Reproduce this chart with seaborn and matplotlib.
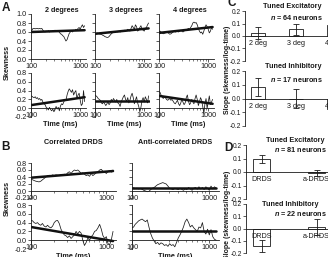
import numpy as np
import pandas as pd
import matplotlib
matplotlib.use("Agg")
import matplotlib.pyplot as plt
from matplotlib.ticker import LogLocator, NullFormatter, FixedLocator
import seaborn as sns

sns.set_theme(style="ticks")
plt.rcParams['font.family'] = ['Liberation Sans', 'DejaVu Sans']
plt.rcParams['axes.unicode_minus'] = False
plt.rcParams['mathtext.fontset'] = 'custom'
plt.rcParams['mathtext.it'] = 'Liberation Sans:italic:bold'
plt.rcParams['mathtext.rm'] = 'Liberation Sans:bold'

# ---------------- data ----------------
TIME = [100, 105, 110, 116, 122, 128, 135, 142, 150, 158, 166, 175, 184, 194, 204, 215, 226, 238, 251, 264,
        278, 293, 308, 325, 342, 360, 379, 399, 420, 442, 466, 490, 516, 544, 572, 603, 635, 668, 704, 741,
        780, 822, 865, 911, 959, 1010, 1063, 1120, 1180, 1240]

a_2deg_top = [0.62, 0.64, 0.68, 0.68, 0.67, 0.68, 0.68, 0.67, 0.68, 0.67, 0.68, 0.64, 0.61, 0.60, 0.62, 0.61, 0.63, 0.60, 0.62, 0.61,
              0.63, 0.62, 0.64, 0.62, 0.63, 0.61, 0.60, 0.56, 0.55, 0.52, 0.50, 0.45, 0.40, 0.43, 0.50, 0.57, 0.60, 0.62, 0.60, 0.64,
              0.63, 0.66, 0.64, 0.68, 0.70, 0.66, 0.72, 0.76, 0.70, 0.74]
a_3deg_top = [0.57, 0.57, 0.58, 0.57, 0.56, 0.55, 0.55, 0.53, 0.52, 0.50, 0.49, 0.48, 0.48, 0.50, 0.53, 0.56, 0.58, 0.60, 0.59, 0.60,
              0.61, 0.60, 0.62, 0.60, 0.61, 0.63, 0.62, 0.64, 0.62, 0.63, 0.66, 0.64, 0.62, 0.68, 0.74, 0.70, 0.66, 0.76, 0.72, 0.62,
              0.64, 0.70, 0.74, 0.66, 0.64, 0.62, 0.68, 0.70, 0.76, 0.80]
a_4deg_top = [0.60, 0.62, 0.60, 0.58, 0.56, 0.57, 0.58, 0.60, 0.59, 0.57, 0.55, 0.56, 0.58, 0.60, 0.62, 0.60, 0.61, 0.63, 0.60, 0.62,
              0.64, 0.62, 0.60, 0.62, 0.65, 0.64, 0.66, 0.68, 0.66, 0.70, 0.74, 0.80, 0.82, 0.80, 0.81, 0.76, 0.68, 0.62, 0.58, 0.60,
              0.55, 0.62, 0.70, 0.76, 0.72, 0.66, 0.58, 0.62, 0.70, 0.66]
a_2deg_bot = [0.28, 0.27, 0.25, 0.24, 0.26, 0.22, 0.24, 0.20, 0.22, 0.18, 0.20, 0.14, 0.10, 0.08, 0.02, 0.00, -0.04, 0.02, -0.03, -0.06,
              -0.02, -0.08, -0.04, 0.04, -0.02, 0.02, -0.06, 0.05, 0.10, 0.08, 0.14, 0.20, 0.18, 0.30, 0.38, 0.44, 0.40, 0.36, 0.42, 0.30,
              0.36, 0.40, 0.22, 0.30, 0.34, 0.18, 0.06, 0.10, 0.40, 0.15]
a_3deg_bot = [0.30, 0.28, 0.26, 0.22, 0.20, 0.18, 0.12, 0.10, 0.14, 0.10, 0.06, 0.10, 0.14, 0.08, 0.12, 0.20, 0.16, 0.22, 0.18, 0.14,
              0.20, 0.12, 0.10, 0.04, 0.14, 0.20, 0.26, 0.30, 0.20, 0.16, 0.24, 0.12, 0.18, 0.28, 0.34, 0.24, 0.10, 0.18, 0.26, 0.12,
              0.04, -0.08, 0.02, 0.18, 0.24, 0.14, 0.26, 0.20, 0.12, 0.28]
a_4deg_bot = [0.38, 0.36, 0.30, 0.26, 0.22, 0.26, 0.24, 0.20, 0.18, 0.20, 0.22, 0.18, 0.20, 0.16, 0.12, 0.10, 0.14, 0.18, 0.10, 0.06,
              0.12, 0.20, 0.14, 0.08, 0.12, 0.24, 0.30, 0.16, 0.08, 0.12, 0.20, 0.14, 0.10, 0.22, 0.30, 0.20, 0.06, 0.14, 0.24, 0.18,
              0.04, -0.12, 0.10, 0.22, 0.00, 0.14, 0.28, 0.08, 0.14, 0.20]
b_corr_top = [0.34, 0.32, 0.30, 0.28, 0.27, 0.26, 0.28, 0.32, 0.36, 0.40, 0.44, 0.45, 0.43, 0.46, 0.44, 0.46, 0.45, 0.44, 0.47, 0.45,
              0.48, 0.46, 0.52, 0.55, 0.50, 0.56, 0.60, 0.58, 0.60, 0.56, 0.50, 0.52, 0.48, 0.44, 0.46, 0.42, 0.50, 0.44, 0.48, 0.52,
              0.55, 0.60, 0.62, 0.56, 0.54, 0.50, 0.56, 0.58, 0.54, 0.60]
b_anti_top = [0.08, 0.09, 0.07, 0.08, 0.06, 0.07, 0.05, 0.02, 0.00, -0.02, -0.01, 0.04, 0.08, 0.10, 0.14, 0.18, 0.20, 0.22, 0.24, 0.22,
              0.20, 0.14, 0.08, 0.06, 0.04, 0.08, 0.06, 0.04, 0.08, 0.05, 0.02, 0.06, 0.04, 0.10, 0.06, 0.02, 0.08, 0.10, 0.05, 0.12,
              0.06, 0.10, 0.04, 0.12, 0.08, 0.02, 0.14, 0.06, 0.12, 0.08]
b_corr_bot = [0.45, 0.44, 0.40, 0.38, 0.40, 0.36, 0.34, 0.38, 0.32, 0.30, 0.34, 0.30, 0.28, 0.32, 0.40, 0.44, 0.45, 0.38, 0.25, 0.18,
              0.12, 0.10, 0.06, 0.10, 0.04, 0.08, 0.12, 0.20, 0.14, 0.20, 0.16, 0.00, -0.12, -0.05, 0.05, 0.00, 0.08, 0.12, 0.20, 0.22,
              0.28, 0.36, 0.25, 0.10, 0.04, 0.08, -0.08, -0.10, 0.02, 0.20]
b_anti_bot = [0.28, 0.30, 0.36, 0.40, 0.44, 0.46, 0.48, 0.45, 0.42, 0.46, 0.30, 0.15, 0.05, -0.02, -0.08, -0.05, -0.10, -0.06, -0.08, -0.12,
              -0.10, -0.14, -0.08, -0.12, -0.10, -0.15, -0.05, 0.05, 0.12, 0.20, 0.30, 0.42, 0.48, 0.40, 0.30, 0.34, 0.28, 0.24, 0.20, 0.30,
              0.28, 0.40, 0.20, 0.14, 0.25, 0.12, 0.24, 0.08, 0.02, 0.00]

# regression (log-time) lines: value at 100 ms and at last time point
FIT_T = [100, 1240]
fit_a = {"a_2deg_top": [0.60, 0.64], "a_3deg_top": [0.56, 0.68], "a_4deg_top": [0.58, 0.71],
         "a_2deg_bot": [0.07, 0.25], "a_3deg_bot": [0.17, 0.17], "a_4deg_bot": [0.28, 0.10]}
fit_b = {"b_corr_top": [0.38, 0.57], "b_anti_top": [0.08, 0.08],
         "b_corr_bot": [0.30, -0.02], "b_anti_bot": [0.20, 0.20]}

A_TITLES = ["2 degrees", "3 degrees", "4 degrees"]
B_TITLES = ["Correlated DRDS", "Anti-correlated DRDS"]

C_CATS = ["2 deg", "3 deg", "4 deg"]
c_exc_val = [0.025, 0.055, 0.085]
c_exc_err = [0.045, 0.045, 0.03]
c_inh_val = [0.085, 0.0, -0.075]
c_inh_err = [0.065, 0.07, 0.065]

D_CATS = ["DRDS", "a-DRDS"]
d_exc_val = [0.093, -0.005]
d_exc_err = [0.03, 0.022]
d_inh_val = [-0.14, 0.01]
d_inh_err = [0.05, 0.065]

N_TEXT = {"c_exc": "64", "c_inh": "17", "d_exc": "81", "d_inh": "22"}

# ---------------- layout ----------------
W, H = 328, 257
fig = plt.figure(figsize=(W / 100, H / 100), dpi=100)
INK = "#1a1a1a"
FS = 5.2


def add_ax(x0, ytop, w, h):
    return fig.add_axes([x0 / W, 1 - (ytop + h) / H, w / W, h / H])


def ftext(x, y, s, **kw):
    kw.setdefault("fontsize", FS)
    kw.setdefault("color", INK)
    return fig.text(x / W, 1 - y / H, s, **kw)


def style_ts(ax, ylim, yticks, xmax, show_ylabels):
    ax.set_xscale("log")
    ax.set_xlim(100, xmax)
    ax.set_ylim(*ylim)
    for s in ["top", "right"]:
        ax.spines[s].set_visible(False)
    ax.spines["bottom"].set_position(("data", 0))
    for s in ["left", "bottom"]:
        ax.spines[s].set_linewidth(0.6)
        ax.spines[s].set_color(INK)
    ax.xaxis.set_major_locator(FixedLocator([100, 1000]))
    ax.set_xticklabels(["100", "1000"])
    ax.xaxis.set_minor_locator(LogLocator(base=10, subs=range(2, 10)))
    ax.xaxis.set_minor_formatter(NullFormatter())
    ax.set_yticks(yticks)
    if show_ylabels:
        ax.set_yticklabels([f"{v:.1f}" for v in yticks])
    else:
        ax.set_yticklabels([])
    ax.tick_params(axis="both", which="major", labelsize=FS, length=2, width=0.5, pad=1, colors=INK)
    ax.tick_params(axis="x", which="minor", length=1.2, width=0.4, colors=INK)
    ax.set_xlabel("")
    ax.set_ylabel("")
    ax.set_facecolor("none")
    ax.set_axisbelow(False)


def draw_trace(ax, vals, fit, fit_t):
    sns.lineplot(x=TIME, y=vals, ax=ax, color=INK, linewidth=0.55)
    sns.lineplot(x=fit_t, y=fit, ax=ax, color="#111111", linewidth=1.8)


# Panel A
a_top = [a_2deg_top, a_3deg_top, a_4deg_top]
a_bot = [a_2deg_bot, a_3deg_bot, a_4deg_bot]
a_top_keys = ["a_2deg_top", "a_3deg_top", "a_4deg_top"]
a_bot_keys = ["a_2deg_bot", "a_3deg_bot", "a_4deg_bot"]
A_X0 = [31, 95, 159]
A_W = 54.6
for i in range(3):
    ax = add_ax(A_X0[i], 14, A_W, 45)
    draw_trace(ax, a_top[i], fit_a[a_top_keys[i]], FIT_T)
    style_ts(ax, (0, 1.0), [0, 0.2, 0.4, 0.6, 0.8, 1.0], 1300, i == 0)
    ftext(A_X0[i] + A_W / 2 + 4, 10, A_TITLES[i], ha="center", va="center", fontweight="bold")

    ax = add_ax(A_X0[i], 73, A_W, 44)
    draw_trace(ax, a_bot[i], fit_a[a_bot_keys[i]], FIT_T)
    style_ts(ax, (-0.2, 0.8), [-0.2, 0, 0.2, 0.4, 0.6, 0.8], 1300, i == 0)
    ftext(A_X0[i] + A_W / 2 + 2, 125, "Time (ms)", ha="center", va="center", fontweight="bold")

ftext(7, 62, "Skewness", rotation=90, ha="center", va="center", fontweight="bold")
ftext(6, 8, "A", ha="center", va="center", fontweight="bold", fontsize=8.5)

# Panel B
b_top = [b_corr_top, b_anti_top]
b_bot = [b_corr_bot, b_anti_bot]
b_top_keys = ["b_corr_top", "b_anti_top"]
b_bot_keys = ["b_corr_bot", "b_anti_bot"]
B_X0 = [31, 132]
B_W = [84.8, 87.0]
for i in range(2):
    ax = add_ax(B_X0[i], 163, B_W[i], 35)
    draw_trace(ax, b_top[i], fit_b[b_top_keys[i]], FIT_T)
    style_ts(ax, (-0.2, 0.8), [-0.2, 0, 0.2, 0.4, 0.6, 0.8], 1350, i == 0)
    ftext(B_X0[i] + B_W[i] / 2 + 0, 142, B_TITLES[i], ha="center", va="center", fontweight="bold")

    ax = add_ax(B_X0[i], 205, B_W[i], 44)
    draw_trace(ax, b_bot[i], fit_b[b_bot_keys[i]], FIT_T)
    style_ts(ax, (-0.2, 0.8), [-0.2, 0, 0.2, 0.4, 0.6, 0.8], 1350, i == 0)
    ftext(B_X0[i] + B_W[i] / 2, 256, "Time (ms)", ha="center", va="center", fontweight="bold")

ftext(7, 198, "Skewness", rotation=90, ha="center", va="center", fontweight="bold")
ftext(6, 147, "B", ha="center", va="center", fontweight="bold", fontsize=8.5)


# Panels C and D
def style_bar(ax, ylim, xlim):
    ax.set_ylim(*ylim)
    ax.set_xlim(*xlim)
    for s in ["top", "right"]:
        ax.spines[s].set_visible(False)
    ax.spines["bottom"].set_position(("data", 0))
    for s in ["left", "bottom"]:
        ax.spines[s].set_linewidth(0.6)
        ax.spines[s].set_color(INK)
    yt = [-0.2, -0.1, 0.0, 0.1, 0.2]
    ax.set_yticks(yt)
    ax.set_yticklabels([f"{v:.1f}" for v in yt])
    ax.tick_params(axis="y", labelsize=4.8, length=2, width=0.5, pad=0.8, colors=INK)
    ax.tick_params(axis="x", labelsize=FS, length=0, pad=3, colors=INK)
    ax.set_xlabel("")
    ax.set_ylabel("")
    ax.set_facecolor("none")
    ax.set_axisbelow(False)


def draw_bars(ax, cats, vals, errs, width):
    df = pd.DataFrame({"cat": cats, "val": vals})
    sns.barplot(data=df, x="cat", y="val", order=cats, ax=ax, color="white",
                edgecolor=INK, linewidth=0.6, width=width, errorbar=None, zorder=1)
    for p in ax.patches:
        p.set_facecolor("white")
    ax.errorbar(np.arange(len(cats)), vals, yerr=errs, fmt="none", ecolor=INK,
                elinewidth=0.6, capsize=2.0, capthick=0.6, zorder=2)


ax = add_ax(245, 11, 108, 50)
draw_bars(ax, C_CATS, c_exc_val, c_exc_err, 0.37)
style_bar(ax, (-0.2, 0.2), (-0.34, 2.5))
ftext(263, 7, "Tuned Excitatory", ha="left", va="center", fontweight="bold")
ftext(270, 17, "$n$ = " + N_TEXT["c_exc"] + " neurons", ha="left", va="center", fontweight="bold")

ax = add_ax(245, 71, 108, 55)
draw_bars(ax, C_CATS, c_inh_val, c_inh_err, 0.37)
style_bar(ax, (-0.2, 0.2), (-0.34, 2.5))
ftext(265, 66, "Tuned Inhibitory", ha="left", va="center", fontweight="bold")
ftext(270, 79, "$n$ = " + N_TEXT["c_inh"] + " neurons", ha="left", va="center", fontweight="bold")

ftext(227.5, 70, "Slope (skewness/log-time)", rotation=90, ha="center", va="center",
      fontweight="bold", fontsize=5.0)
ftext(232, 3, "C", ha="center", va="center", fontweight="bold", fontsize=8.5)

ax = add_ax(246, 145, 98, 54)
draw_bars(ax, D_CATS, d_exc_val, d_exc_err, 0.31)
style_bar(ax, (-0.2, 0.2), (-0.29, 1.5))
ftext(266, 141, "Tuned Excitatory", ha="left", va="center", fontweight="bold")
ftext(274, 150, "$n$ = " + N_TEXT["d_exc"] + " neurons", ha="left", va="center", fontweight="bold")

ax = add_ax(246, 204, 98, 49)
draw_bars(ax, D_CATS, d_inh_val, d_inh_err, 0.31)
style_bar(ax, (-0.2, 0.2), (-0.29, 1.5))
ftext(262, 204, "Tuned Inhibitory", ha="left", va="center", fontweight="bold")
ftext(274, 213, "$n$ = " + N_TEXT["d_inh"] + " neurons", ha="left", va="center", fontweight="bold")

ftext(227.5, 215, "Slope (skewness/log-time)", rotation=90, ha="center", va="center",
      fontweight="bold", fontsize=5.0)
ftext(228.5, 148, "D", ha="center", va="center", fontweight="bold", fontsize=8.5)

fig.savefig("out.png", dpi=100)
